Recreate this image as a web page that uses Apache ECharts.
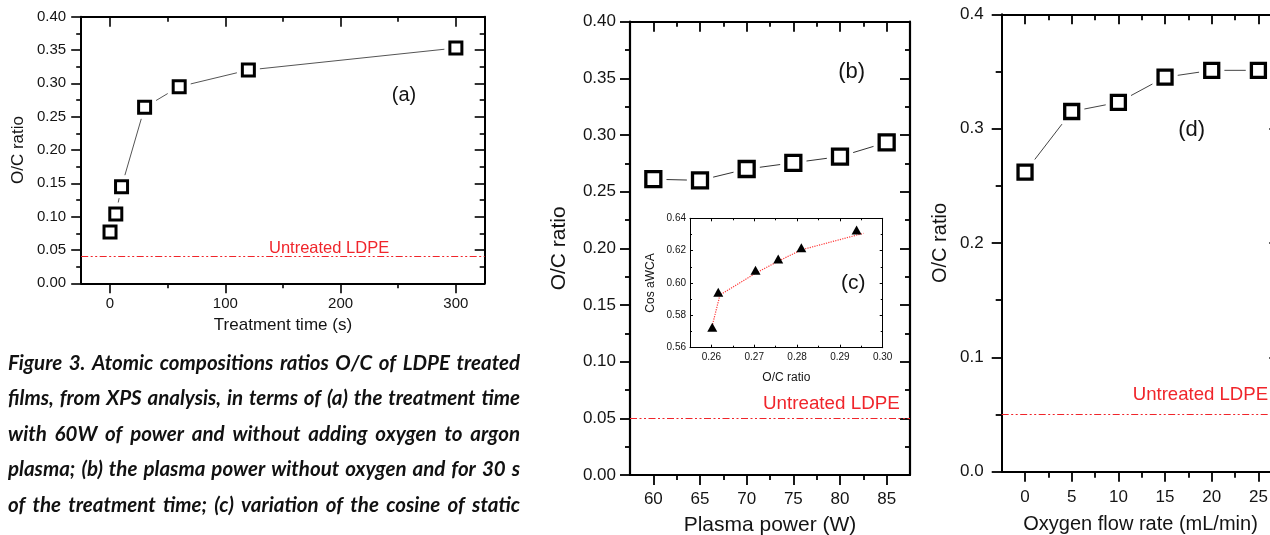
<!DOCTYPE html>
<html><head><meta charset="utf-8">
<script src="https://cdn.jsdelivr.net/npm/echarts@6/dist/echarts.min.js"></script>
<style>html,body{margin:0;padding:0;background:#fff}#c{width:1270px;height:535px}</style>
</head><body><div id="c"></div>
<script>
// ---------- data ----------
const timeA = [0, 5, 10, 30, 60, 120, 300];
const ocA = [0.077, 0.104, 0.145, 0.264, 0.295, 0.320, 0.353];
const untreatedA = 0.042;

const powerB = [60, 65, 70, 75, 80, 85];
const ocB = [0.261, 0.260, 0.270, 0.2755, 0.281, 0.2935];
const untreatedB = 0.0505;

const ocC = [0.2602, 0.2616, 0.2703, 0.2756, 0.2810, 0.2939];
const cosC = [0.5726, 0.5943, 0.6079, 0.6149, 0.6218, 0.6328];
const fitOcC = [0.2600, 0.2620, 0.2703, 0.2756, 0.2810, 0.2955];
const fitCosC = [0.5716, 0.5926, 0.6060, 0.6135, 0.6205, 0.6307];

const flowD = [0, 5, 10, 15, 20, 25];
const ocD = [0.262, 0.315, 0.323, 0.345, 0.351, 0.351];
const untreatedD = 0.0502;

// ---------- tick values ----------
const ticksAx = [0, 100, 200, 300];
const minorAx = [50, 150, 250];
const ticksAy = [0, 0.05, 0.10, 0.15, 0.20, 0.25, 0.30, 0.35, 0.40];
const minorAy = [0.025, 0.075, 0.125, 0.175, 0.225, 0.275, 0.325, 0.375];
const ticksBx = [60, 65, 70, 75, 80, 85];
const minorBx = [62.5, 67.5, 72.5, 77.5, 82.5];
const ticksBy = [0, 0.05, 0.10, 0.15, 0.20, 0.25, 0.30, 0.35, 0.40];
const minorBy = [0.025, 0.075, 0.125, 0.175, 0.225, 0.275, 0.325, 0.375];
const ticksCx = [0.26, 0.27, 0.28, 0.29, 0.30];
const minorCx = [0.265, 0.275, 0.285, 0.295];
const ticksCy = [0.56, 0.58, 0.60, 0.62, 0.64];
const minorCy = [0.57, 0.59, 0.61, 0.63];
const ticksDx = [0, 5, 10, 15, 20, 25];
const minorDx = [2.5, 7.5, 12.5, 17.5, 22.5];
const ticksDy = [0, 0.1, 0.2, 0.3, 0.4];
const minorDy = [0.05, 0.15, 0.25, 0.35];

const captionLines = [
  'Figure 3. Atomic compositions ratios O/C of LDPE treated',
  'films, from XPS analysis, in terms of (a) the treatment time',
  'with 60W of power and without adding oxygen to argon',
  'plasma; (b) the plasma power without oxygen and for 30 s',
  'of the treatment time; (c) variation of the cosine of static'
];

// ---------- helpers ----------
const FONT = '"Liberation Sans", Arial, Helvetica, sans-serif';
const RED = '#f0252b';
const zip = (a, b) => a.map((v, i) => [v, b[i]]);
const xAxis = [], yAxis = [];

// each panel uses two grids with the same rectangle: one for the major ticks/labels, one for the minor ticks
function panel(p) {
  const base = (g, extra) => Object.assign({
    type: 'value', gridIndex: g, splitLine: {show: false}, z: 1,
    minorTick: {show: false}, axisPointer: {show: false}
  }, extra);
  const line = (show) => ({show: show, onZero: false, lineStyle: {color: '#000', width: p.lw}});
  const tick = (vals, len, inside) => ({show: true, inside: inside, length: len, customValues: vals,
    lineStyle: {color: '#000', width: p.tw}});
  const lbl = (vals, fmt, margin) => ({show: true, customValues: vals, formatter: fmt, margin: margin,
    fontSize: p.fs, color: '#141414', fontFamily: FONT});
  const nameStyle = {fontSize: p.nfs, color: '#141414', fontFamily: FONT};
  const xi = xAxis.length;
  xAxis.push(base(p.g, {min: p.x[0], max: p.x[1], position: 'bottom', axisLine: line(true),
    axisTick: tick(p.xt, p.tl, p.inTick), axisLabel: lbl(p.xt, p.xf, p.xm),
    name: p.xn, nameLocation: 'middle', nameGap: p.xng, nameTextStyle: nameStyle}));
  xAxis.push(base(p.g, {min: p.x[0], max: p.x[1], position: 'top', axisLine: line(true),
    axisTick: tick(p.xt, p.tl, true), axisLabel: {show: false}}));
  xAxis.push(base(p.gm, {min: p.x[0], max: p.x[1], position: 'bottom', axisLine: line(false),
    axisTick: tick(p.xmn, p.ml, p.inTick), axisLabel: {show: false}}));
  xAxis.push(base(p.gm, {min: p.x[0], max: p.x[1], position: 'top', axisLine: line(false),
    axisTick: tick(p.xmn, p.ml, true), axisLabel: {show: false}}));
  const yi = yAxis.length;
  yAxis.push(base(p.g, {min: p.y[0], max: p.y[1], position: 'left', axisLine: line(true),
    axisTick: tick(p.yt, p.tl, p.inTick), axisLabel: lbl(p.yt, p.yf, p.ym),
    name: p.yn, nameLocation: 'middle', nameGap: p.yng, nameTextStyle: nameStyle}));
  yAxis.push(base(p.g, {min: p.y[0], max: p.y[1], position: 'right', axisLine: line(true),
    axisTick: tick(p.yt, p.tl, true), axisLabel: {show: false}}));
  yAxis.push(base(p.gm, {min: p.y[0], max: p.y[1], position: 'left', axisLine: line(false),
    axisTick: tick(p.ymn, p.ml, p.inTick), axisLabel: {show: false}}));
  yAxis.push(base(p.gm, {min: p.y[0], max: p.y[1], position: 'right', axisLine: line(false),
    axisTick: tick(p.ymn, p.ml, true), axisLabel: {show: false}}));
  return {xi: xi, yi: yi};
}

const f2 = v => v.toFixed(2), f1 = v => v.toFixed(1), f0 = v => String(Math.round(v));

const A = panel({g: 0, gm: 4, x: [-25, 325], y: [0, 0.4], xt: ticksAx, xmn: minorAx, yt: ticksAy, ymn: minorAy,
  lw: 2, tw: 1.6, tl: 10, ml: 5, inTick: false, fs: 15, nfs: 17, xf: f0, yf: f2, xm: 13, ym: 15,
  xn: 'Treatment time (s)', xng: 34, yn: 'O/C ratio', yng: 54});
const B = panel({g: 1, gm: 5, x: [57.5, 87.5], y: [0, 0.4], xt: ticksBx, xmn: minorBx, yt: ticksBy, ymn: minorBy,
  lw: 2.2, tw: 1.8, tl: 10, ml: 5, inTick: false, fs: 17, nfs: 21, xf: f0, yf: f2, xm: 16, ym: 14,
  xn: 'Plasma power (W)', xng: 40, yn: 'O/C ratio', yng: 60});
const C = panel({g: 2, gm: 6, x: [0.255, 0.30], y: [0.56, 0.64], xt: ticksCx, xmn: minorCx, yt: ticksCy, ymn: minorCy,
  lw: 1, tw: 1, tl: 3, ml: 2, inTick: true, fs: 10, nfs: 12, xf: f2, yf: f2, xm: 5, ym: 4,
  xn: 'O/C ratio', xng: 24, yn: 'Cos aWCA', yng: 33});
const D = panel({g: 3, gm: 7, x: [-2.5, 27.25], y: [0, 0.4], xt: ticksDx, xmn: minorDx, yt: ticksDy, ymn: minorDy,
  lw: 2, tw: 1.8, tl: 10, ml: 6, inTick: false, fs: 17, nfs: 20, xf: f0, yf: f1, xm: 17, ym: 18,
  xn: 'Oxygen flow rate (mL/min)', xng: 43, yn: 'O/C ratio', yng: 51});

function untreated(v) {
  return {silent: true, symbol: ['none', 'none'], label: {show: false}, animation: false,
    lineStyle: {color: RED, width: 1, type: [7, 2.5, 2, 2.5, 2, 2.5], opacity: 1},
    emphasis: {disabled: true}, data: [{yAxis: v}]};
}

function squareSeries(P, xs, ys, lineColor, size, bw, untreatedVal) {
  const d = zip(xs, ys);
  return [
    {type: 'line', xAxisIndex: P.xi, yAxisIndex: P.yi, data: d, symbol: 'none', silent: true,
      lineStyle: {color: lineColor, width: 1}, markLine: untreated(untreatedVal), z: 2},
    {type: 'scatter', xAxisIndex: P.xi, yAxisIndex: P.yi, data: d, symbol: 'rect', silent: true,
      symbolSize: size + bw + 8, itemStyle: {color: '#fff', opacity: 1}, z: 3},
    {type: 'scatter', xAxisIndex: P.xi, yAxisIndex: P.yi, data: d, symbol: 'rect', silent: true,
      symbolSize: size, itemStyle: {color: '#fff', borderColor: '#000', borderWidth: bw, opacity: 1}, z: 4}
  ];
}

// ---------- caption (justified words) ----------
function captionElements() {
  const ctx = document.createElement('canvas').getContext('2d');
  const fam = 'Lato, "Open Sans", "Noto Sans", sans-serif';
  const fontOf = s => 'italic bold ' + s + 'px ' + fam;
  const W = 512, X0 = 8, Y0 = 363, LH = 35.5;
  let fs = 21;
  const maxW = s => { ctx.font = fontOf(s); return Math.max.apply(null, captionLines.map(l => ctx.measureText(l).width)); };
  while (fs > 10 && maxW(fs) > W - 8) fs -= 0.25;
  ctx.font = fontOf(fs);
  const els = [];
  captionLines.forEach((ln, i) => {
    const words = ln.split(' ');
    const ww = words.map(w => ctx.measureText(w).width);
    const gap = (W - ww.reduce((a, b) => a + b, 0)) / (words.length - 1);
    let x = X0;
    words.forEach((w, j) => {
      els.push({type: 'text', x: x, y: Y0 + i * LH, silent: true,
        style: {text: w, font: fontOf(fs), fill: '#111', textAlign: 'left', align: 'left',
          textVerticalAlign: 'middle', verticalAlign: 'middle'}});
      x += ww[j] + gap;
    });
  });
  return els;
}

function label(text, x, y, size, color, align) {
  return {type: 'text', x: x, y: y, silent: true,
    style: {text: text, fontSize: size, fontFamily: FONT, fill: color,
      textAlign: align, align: align, textVerticalAlign: 'middle', verticalAlign: 'middle'}};
}

const rectA = {left: 81.2, top: 16.7, width: 403.5, height: 266.6};
const rectB = {left: 630, top: 21.7, width: 280, height: 453.3};
const rectC = {left: 690, top: 218.3, width: 192.7, height: 129.4};
const rectD = {left: 1001.7, top: 14.3, width: 277.7, height: 457.4};
const g = (r, extra) => Object.assign({show: false, containLabel: false, outerBoundsMode: 'none'}, r, extra || {});

const chart = echarts.init(document.getElementById('c'), null, {renderer: 'canvas'});
chart.setOption({
  animation: false,
  backgroundColor: '#fff',
  grid: [
    g(rectA), g(rectB),
    g(rectC, {show: true, backgroundColor: '#fff', borderWidth: 0}),
    g(rectD),
    g(rectA), g(rectB), g(rectC), g(rectD)
  ],
  xAxis: xAxis,
  yAxis: yAxis,
  series: [].concat(
    squareSeries(A, timeA, ocA, '#555', 12, 3, untreatedA),
    squareSeries(B, powerB, ocB, '#333', 15, 3.3, untreatedB),
    squareSeries(D, flowD, ocD, '#444', 14, 3.3, untreatedD),
    [
      {type: 'line', xAxisIndex: C.xi, yAxisIndex: C.yi, data: zip(fitOcC, fitCosC), symbol: 'none', silent: true,
        lineStyle: {color: '#ff3b3b', width: 1.2, type: 'dotted'}, z: 6},
      {type: 'scatter', xAxisIndex: C.xi, yAxisIndex: C.yi, data: zip(ocC, cosC), symbol: 'triangle', silent: true,
        symbolSize: [10, 9], itemStyle: {color: '#000', opacity: 1}, z: 7}
    ]
  ),
  graphic: [
    label('(a)', 404, 95, 20, '#141414', 'center'),
    label('Untreated LDPE', 269, 248.5, 16.5, RED, 'left'),
    label('(b)', 851.7, 72, 22, '#141414', 'center'),
    label('Untreated LDPE', 763, 404, 18.8, RED, 'left'),
    label('(c)', 853.3, 283.3, 21, '#141414', 'center'),
    label('(d)', 1191.7, 130, 22, '#141414', 'center'),
    label('Untreated LDPE', 1132.7, 395, 18.6, RED, 'left')
  ].concat(captionElements())
});
</script></body></html>
